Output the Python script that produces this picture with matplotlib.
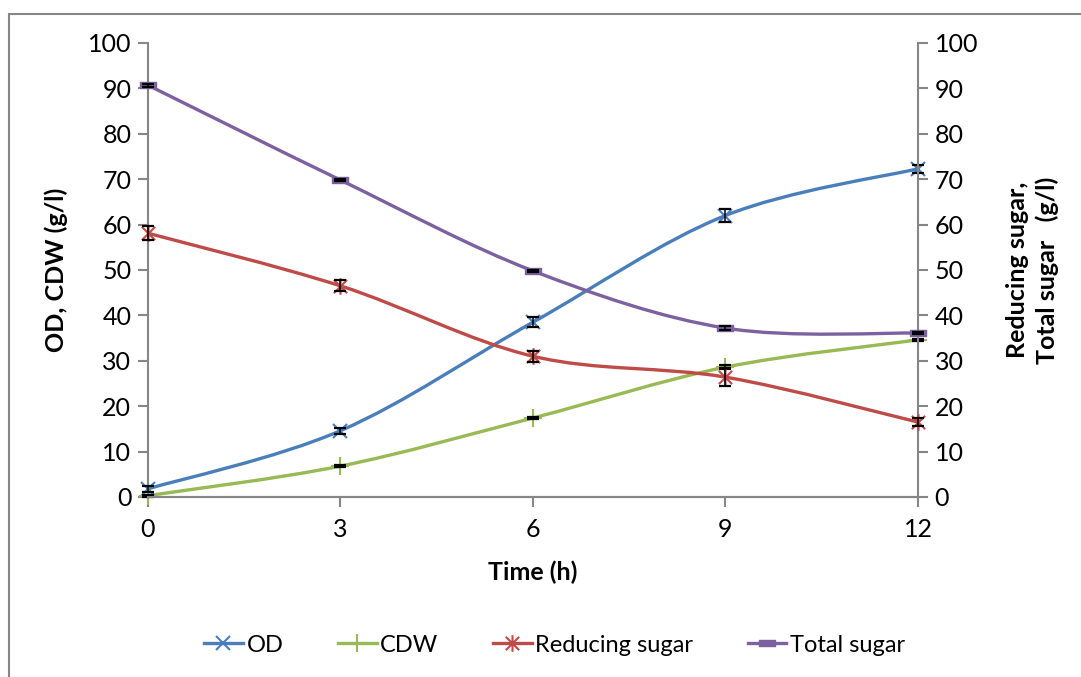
import numpy as np
import matplotlib
matplotlib.use("Agg")
import matplotlib.pyplot as plt
from matplotlib.path import Path
from matplotlib.patches import PathPatch, Rectangle
from matplotlib.lines import Line2D

plt.rcParams['font.family'] = ['Lato', 'DejaVu Sans']

# --- Data ---
time_h = [0, 3, 6, 9, 12]
od = [1.8, 14.6, 38.5, 62.0, 72.3]
od_err = [0.7, 0.7, 1.1, 1.5, 0.9]
cdw = [0.3, 6.8, 17.4, 28.6, 34.6]
cdw_err = [0.2, 0.3, 0.3, 0.5, 0.3]
red_sugar = [58.1, 46.5, 31.0, 26.4, 16.5]
red_err = [1.6, 1.2, 1.2, 2.0, 0.9]
tot_sugar = [90.7, 69.8, 49.8, 37.2, 36.1]
tot_err = [0.3, 0.2, 0.2, 0.5, 0.2]

C_OD = "#4A7EBB"
C_CDW = "#98B954"
C_RED = "#BE4B48"
C_TOT = "#7D60A0"
GREY = "#868686"

# custom markers
star_marker = Path([(-1, -1), (1, 1), (-1, 1), (1, -1), (0, -1.25), (0, 1.25)],
                   [Path.MOVETO, Path.LINETO, Path.MOVETO, Path.LINETO, Path.MOVETO, Path.LINETO])
dash_marker = Path([(-1, -0.35), (1, -0.35), (1, 0.35), (-1, 0.35), (-1, -0.35)],
                   [Path.MOVETO, Path.LINETO, Path.LINETO, Path.LINETO, Path.CLOSEPOLY])


def smooth_path(x, y):
    # Excel-style smoothed line: cubic bezier through each point
    p = np.column_stack([x, y]).astype(float)
    n = len(p)
    verts = [p[0]]
    codes = [Path.MOVETO]
    for i in range(n - 1):
        p0 = p[i - 1] if i > 0 else p[i]
        p3 = p[i + 2] if i + 2 < n else p[i + 1]
        c1 = p[i] + (p[i + 1] - p0) / 6.0
        c2 = p[i + 1] - (p3 - p[i]) / 6.0
        verts += [c1, c2, p[i + 1]]
        codes += [Path.CURVE4] * 3
    return Path(verts, codes)


def draw_series(ax, x, y, err, color, marker, ms, mew, mfc='none'):
    ax.add_patch(PathPatch(smooth_path(x, y), facecolor='none', edgecolor=color,
                           lw=2.4, zorder=3, clip_on=False))
    ax.plot(x, y, ls='none', marker=marker, ms=ms, mew=mew, color=color,
            mfc=mfc, zorder=4, clip_on=False)
    ax.errorbar(x, y, yerr=err, fmt='none', ecolor='black', elinewidth=1.1,
                capsize=4, capthick=1.6, zorder=5, clip_on=False)


fig = plt.figure(figsize=(10.81, 6.77), dpi=100)
ax = fig.add_axes([0.1369, 0.2659, 0.7123, 0.6706])
ax2 = ax.twinx()

draw_series(ax, time_h, od, od_err, C_OD, 'x', 9.5, 1.5)
draw_series(ax, time_h, cdw, cdw_err, C_CDW, '+', 13, 1.5)
draw_series(ax2, time_h, red_sugar, red_err, C_RED, star_marker, 12, 1.5)
draw_series(ax2, time_h, tot_sugar, tot_err, C_TOT, dash_marker, 11, 1, mfc=C_TOT)

for a in (ax, ax2):
    a.set_xlim(0, 12)
    a.set_ylim(0, 100)
    a.set_yticks(np.arange(0, 101, 10))
    for s in a.spines.values():
        s.set_color(GREY)
        s.set_linewidth(1.5)
    a.spines['top'].set_visible(False)
    a.tick_params(axis='both', which='both', direction='out', length=7, width=1.5,
                  color=GREY, labelsize=18, pad=5)

ax.set_xticks(time_h)
ax.tick_params(axis='x', pad=8)
ax.spines['right'].set_visible(False)
ax2.spines['left'].set_visible(False)

ax.set_xlabel("Time (h)", fontsize=18, fontweight='bold', labelpad=14)
ax.set_ylabel("OD, CDW (g/l)", fontsize=18, fontweight='bold', labelpad=14)
ax2.set_ylabel("Reducing sugar,\nTotal sugar   (g/l)", fontsize=18, fontweight='bold',
               labelpad=20, rotation=90, multialignment='center', linespacing=1.35)

handles = [
    Line2D([], [], color=C_OD, lw=2.4, marker='x', ms=9.5, mew=1.5),
    Line2D([], [], color=C_CDW, lw=2.4, marker='+', ms=13, mew=1.5),
    Line2D([], [], color=C_RED, lw=2.4, marker=star_marker, ms=12, mew=1.5, mfc='none'),
    Line2D([], [], color=C_TOT, lw=2.4, marker=dash_marker, ms=11, mew=1, mfc=C_TOT),
]
fig.legend(handles, ["OD", "CDW", "Reducing sugar", "Total sugar"], loc='center',
           bbox_to_anchor=(0.513, 0.047), ncol=4, frameon=False, fontsize=17,
           handlelength=1.65, handletextpad=0.15, columnspacing=2.3)

# outer chart border
fig.patches.append(Rectangle((9 / 1081, -0.5), 2.0, 0.5 + (1 - 14 / 677), transform=fig.transFigure,
                             fill=False, edgecolor=GREY, lw=1.5, zorder=0))

fig.savefig("out.png", dpi=100)
